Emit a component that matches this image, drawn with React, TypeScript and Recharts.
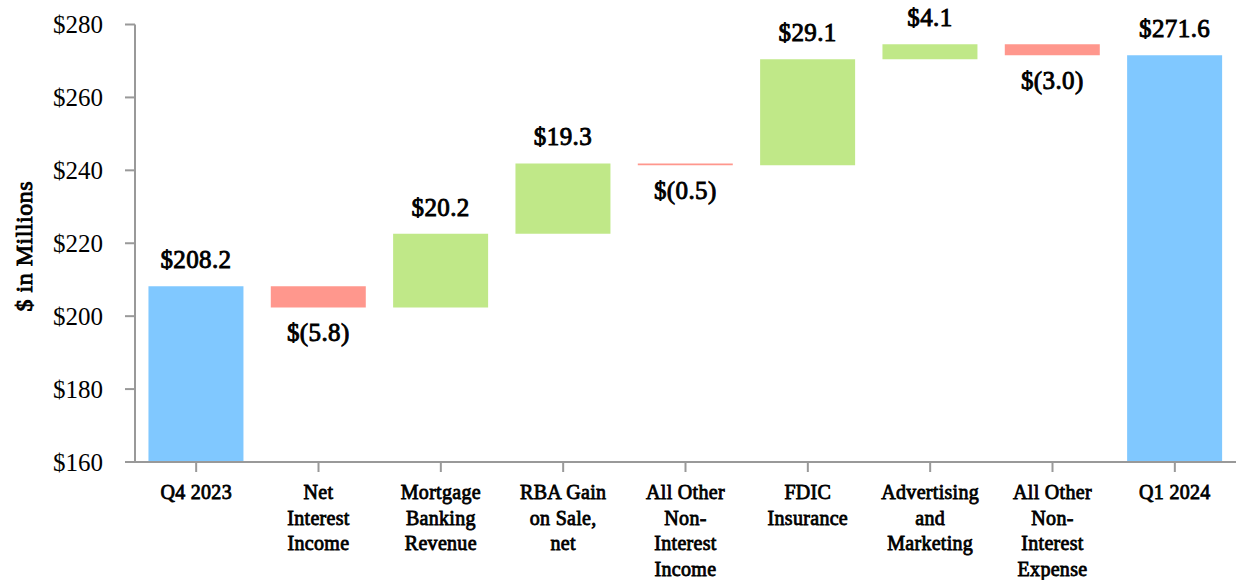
import { BarChart, Bar, XAxis, YAxis, Cell, LabelList, Label } from 'recharts';

const categories = [
  'Q4 2023',
  'Net\nInterest\nIncome',
  'Mortgage\nBanking\nRevenue',
  'RBA Gain\non Sale,\nnet',
  'All Other\nNon-\nInterest\nIncome',
  'FDIC\nInsurance',
  'Advertising\nand\nMarketing',
  'All Other\nNon-\nInterest\nExpense',
  'Q1 2024',
];
const startValue = 208.2;
const changes = [-5.8, 20.2, 19.3, -0.5, 29.1, 4.1, -3.0];
const endValue = 271.6;
const yTicks = [160, 180, 200, 220, 240, 260, 280];

const BLUE = '#80C8FF';
const GREEN = '#C0E888';
const RED = '#FF978D';
const FONT = "'Liberation Serif', 'Times New Roman', Times, serif";

// bold serif face is not available here, so thicken the regular face with a thin stroke
const boldText = { style: { fontFamily: FONT }, stroke: '#000', strokeWidth: 0.9, fill: '#000' };

type Row = { name: string; base: number; size: number; kind: 'total' | 'up' | 'down'; label: string };

const fmt = (v: number) => (v < 0 ? `$(${Math.abs(v).toFixed(1)})` : `$${v.toFixed(1)}`);

const buildRows = (): Row[] => {
  const rows: Row[] = [{ name: categories[0], base: 0, size: startValue, kind: 'total', label: fmt(startValue) }];
  let running = startValue;
  changes.forEach((c, i) => {
    const next = running + c;
    rows.push({
      name: categories[i + 1],
      base: Math.min(running, next),
      size: Math.abs(c),
      kind: c >= 0 ? 'up' : 'down',
      label: fmt(c),
    });
    running = next;
  });
  rows.push({ name: categories[categories.length - 1], base: 0, size: endValue, kind: 'total', label: fmt(endValue) });
  return rows;
};

const rows = buildRows();

const colorOf = (r: Row) => (r.kind === 'total' ? BLUE : r.kind === 'up' ? GREEN : RED);

const CategoryTick = (props: any) => {
  const { x, y, payload } = props;
  const lines = String(payload.value).split('\n');
  return (
    <text x={x} y={y + 25} textAnchor="middle" fontSize={20} letterSpacing={0.3} {...boldText} strokeWidth={0.8}>
      {lines.map((l, i) => (
        <tspan key={i} x={x} dy={i === 0 ? 0 : 25.5}>
          {l}
        </tspan>
      ))}
    </text>
  );
};

const ValueTick = (props: any) => {
  const { x, y, payload } = props;
  return (
    <text x={x - 20} y={y} textAnchor="end" dominantBaseline="central" style={{ fontFamily: FONT }} fontSize={25} fill="#000">
      {`$${payload.value}`}
    </text>
  );
};

const ValueLabel = (props: any) => {
  const { x, y, width, height, index } = props;
  const row = rows[index];
  if (!row) return null;
  const cx = x + width / 2;
  const ty = row.kind === 'down' ? y + height + 34 : y - 18;
  return (
    <text x={cx} y={ty} textAnchor="middle" fontSize={25} letterSpacing={0.4} {...boldText}>
      {row.label}
    </text>
  );
};

export default function App() {
  return (
    <div style={{ position: 'absolute', left: 0, top: 0, width: 1239, height: 580, background: '#fff', fontFamily: FONT }}>
      <BarChart
        width={1239}
        height={580}
        data={rows}
        margin={{ top: 24.5, right: 3, left: 0, bottom: 0 }}
        barCategoryGap="11%"
        style={{ fontFamily: FONT }}
      >
        <XAxis
          dataKey="name"
          interval={0}
          height={118}
          stroke="#999"
          strokeWidth={2}
          tickSize={10}
          tick={<CategoryTick />}
        />
        <YAxis
          width={135}
          domain={[160, 280]}
          ticks={yTicks}
          allowDataOverflow
          stroke="#999"
          strokeWidth={2}
          tickSize={10}
          tick={<ValueTick />}
        >
          <Label
            content={(p: any) => {
              const vb = p.viewBox || {};
              const cy = (vb.y ?? 24.5) + (vb.height ?? 437) / 2 + 3;
              return (
                <text
                  x={24}
                  y={cy}
                  transform={`rotate(-90 24 ${cy})`}
                  textAnchor="middle"
                  dominantBaseline="central"
                  fontSize={24}
                  letterSpacing={0.5}
                  {...boldText}
                >
                  $ in Millions
                </text>
              );
            }}
          />
        </YAxis>
        <Bar dataKey="base" stackId="w" fill="transparent" isAnimationActive={false} />
        <Bar dataKey="size" stackId="w" isAnimationActive={false}>
          {rows.map((r, i) => (
            <Cell key={i} fill={colorOf(r)} />
          ))}
          <LabelList dataKey="size" content={<ValueLabel />} />
        </Bar>
      </BarChart>
    </div>
  );
}
